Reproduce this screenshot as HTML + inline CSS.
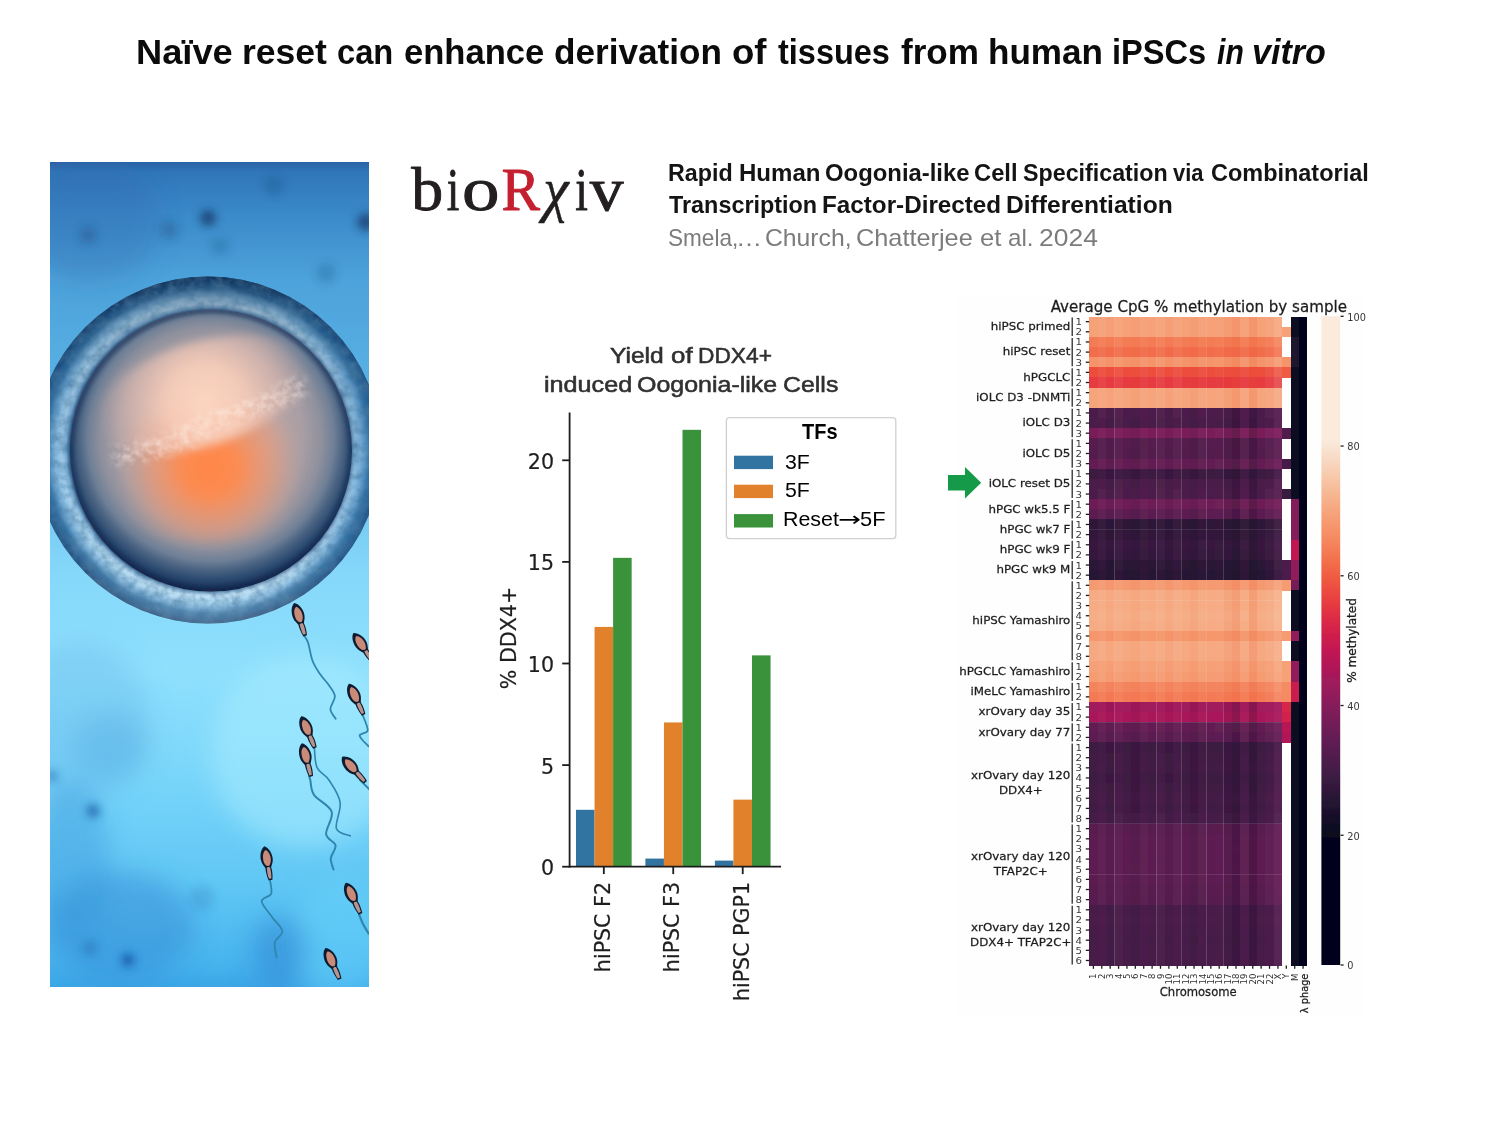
<!DOCTYPE html>
<html lang="en"><head><meta charset="utf-8">
<title>Naïve reset can enhance derivation of tissues from human iPSCs in vitro</title>
<style>
html,body{margin:0;padding:0;background:#fff}
body{width:1500px;height:1125px;position:relative;overflow:hidden;font-family:"Liberation Sans",sans-serif;color:#000}
.abs{position:absolute;white-space:nowrap}
.ln{position:absolute;left:0;width:1500px;margin:0;padding:0;white-space:nowrap}
.ln span{display:inline-block;position:relative;transform-origin:0 50%;white-space:nowrap}
.ln i{font-style:italic}
svg{position:absolute;overflow:visible}
svg text{white-space:pre}
</style></head>
<body>
<h1 class="ln" style="top:31.07px;height:42px;line-height:42px;font-size:35px;font-weight:bold;color:#0b0b0b;font-family:'Liberation Sans',sans-serif;"><span style="left:136.07px;transform:scaleX(1.0356)">Naïve</span> <span style="left:138.98px;transform:scaleX(1.0148)">reset</span> <span style="left:140.68px;transform:scaleX(0.9333)">can</span> <span style="left:136.98px;transform:scaleX(0.9878)">enhance</span> <span style="left:135.56px;transform:scaleX(1.0043)">derivation</span> <span style="left:136.76px;transform:scaleX(1.0457)">of</span> <span style="left:139.83px;transform:scaleX(0.9280)">tissues</span> <span style="left:132.43px;transform:scaleX(1.0027)">from</span> <span style="left:131.92px;transform:scaleX(1.0018)">human</span> <span style="left:131.22px;transform:scaleX(0.9316)">iPSCs</span> <span style="left:125.63px;transform:scaleX(0.8615)"><i>in</i></span> <span style="left:120.26px;transform:scaleX(0.9732)"><i>vitro</i></span></h1>
<svg id="photo" width="319" height="825" viewBox="0 0 319 825" style="left:50px;top:162px;overflow:hidden"><defs>
<linearGradient id="bg" x1="0" y1="0" x2="0" y2="1">
<stop offset="0" stop-color="#2a63a6"/>
<stop offset="0.012" stop-color="#3076b8"/>
<stop offset="0.06" stop-color="#3a88c8"/>
<stop offset="0.14" stop-color="#4ca2da"/>
<stop offset="0.30" stop-color="#5cb4e6"/>
<stop offset="0.50" stop-color="#86d8fa"/>
<stop offset="0.62" stop-color="#8fe0fd"/>
<stop offset="0.74" stop-color="#7ad6fa"/>
<stop offset="0.88" stop-color="#5fc6f4"/>
<stop offset="0.97" stop-color="#48b4ee"/>
<stop offset="1" stop-color="#3ca6e6"/>
</linearGradient>
<radialGradient id="ring" cx="158" cy="288" r="174" gradientUnits="userSpaceOnUse">
<stop offset="0.78" stop-color="#1a3558"/>
<stop offset="0.815" stop-color="#8fc0e4"/>
<stop offset="0.84" stop-color="#c4e6fa"/>
<stop offset="0.875" stop-color="#aad8f4"/>
<stop offset="0.905" stop-color="#74acd6"/>
<stop offset="0.935" stop-color="#34709f"/>
<stop offset="0.965" stop-color="#225688"/>
<stop offset="0.99" stop-color="#183f6c"/>
<stop offset="1" stop-color="#15365e"/>
</radialGradient>
<linearGradient id="ringshade" x1="0" y1="0" x2="0" y2="1">
<stop offset="0" stop-color="#0a2648" stop-opacity="0.5"/>
<stop offset="0.1" stop-color="#0a2648" stop-opacity="0.3"/>
<stop offset="0.3" stop-color="#0c2c50" stop-opacity="0.15"/>
<stop offset="0.6" stop-color="#0c2c50" stop-opacity="0.0"/>
<stop offset="1" stop-color="#d8f2ff" stop-opacity="0.25"/>
</linearGradient>
<radialGradient id="cell" cx="161" cy="276" r="154" gradientUnits="userSpaceOnUse">
<stop offset="0" stop-color="#cfa89c"/>
<stop offset="0.4" stop-color="#bea6a4"/>
<stop offset="0.6" stop-color="#a89ea4"/>
<stop offset="0.72" stop-color="#8e909d"/>
<stop offset="0.8" stop-color="#6e7f96"/>
<stop offset="0.86" stop-color="#4a6382"/>
<stop offset="0.92" stop-color="#2c4b70"/>
<stop offset="0.97" stop-color="#1c3459"/>
<stop offset="1" stop-color="#14284a"/>
</radialGradient>
<linearGradient id="sideshade" x1="0" y1="0" x2="319" y2="0" gradientUnits="userSpaceOnUse">
<stop offset="0" stop-color="#2f78b4" stop-opacity="0.3"/>
<stop offset="0.12" stop-color="#2f78b4" stop-opacity="0.1"/>
<stop offset="0.3" stop-color="#2f78b4" stop-opacity="0"/>
<stop offset="0.7" stop-color="#2f78b4" stop-opacity="0"/>
<stop offset="0.88" stop-color="#2f78b4" stop-opacity="0.2"/>
<stop offset="1" stop-color="#2a70ac" stop-opacity="0.45"/>
</linearGradient>
<radialGradient id="orange" cx="160" cy="306" r="92" gradientUnits="userSpaceOnUse">
<stop offset="0" stop-color="#ff8648" stop-opacity="1"/>
<stop offset="0.3" stop-color="#ff8a4e" stop-opacity="0.95"/>
<stop offset="0.65" stop-color="#f49468" stop-opacity="0.55"/>
<stop offset="1" stop-color="#e0a088" stop-opacity="0"/>
</radialGradient>
<radialGradient id="peach" cx="152" cy="240" r="108" gradientUnits="userSpaceOnUse">
<stop offset="0" stop-color="#fcd6c2" stop-opacity="1"/>
<stop offset="0.35" stop-color="#f8ceba" stop-opacity="0.9"/>
<stop offset="0.7" stop-color="#e6beb2" stop-opacity="0.5"/>
<stop offset="1" stop-color="#d0b0ac" stop-opacity="0"/>
</radialGradient>
<filter id="tex" x="0" y="0" width="100%" height="100%">
<feTurbulence type="fractalNoise" baseFrequency="0.09" numOctaves="3" seed="7" result="n"/>
<feColorMatrix in="n" type="matrix" values="0 0 0 0 1  0 0 0 0 1  0 0 0 0 1  1.6 0 0 0 -0.55" result="a"/>
<feComposite in="a" in2="SourceGraphic" operator="in"/>
</filter>
<filter id="tex2" x="-10%" y="-30%" width="120%" height="160%">
<feGaussianBlur in="SourceGraphic" stdDeviation="5" result="m"/>
<feTurbulence type="fractalNoise" baseFrequency="0.13" numOctaves="3" seed="11" result="n"/>
<feColorMatrix in="n" type="matrix" values="0 0 0 0 0.99  0 0 0 0 0.86  0 0 0 0 0.79  2.2 0 0 0 -0.7" result="a"/>
<feComposite in="a" in2="m" operator="in"/>
</filter>
<filter id="texd" x="0" y="0" width="100%" height="100%">
<feTurbulence type="fractalNoise" baseFrequency="0.11" numOctaves="3" seed="3" result="n"/>
<feColorMatrix in="n" type="matrix" values="0 0 0 0 0.05  0 0 0 0 0.17  0 0 0 0 0.32  0 1.8 0 0 -0.62" result="a"/>
<feComposite in="a" in2="SourceGraphic" operator="in"/>
</filter>
<filter id="b2" x="-50%" y="-50%" width="200%" height="200%"><feGaussianBlur stdDeviation="2"/></filter>
<filter id="b4" x="-50%" y="-50%" width="200%" height="200%"><feGaussianBlur stdDeviation="4.5"/></filter>
<filter id="b10" x="-50%" y="-50%" width="200%" height="200%"><feGaussianBlur stdDeviation="12"/></filter>
<filter id="b1" x="-20%" y="-20%" width="140%" height="140%"><feGaussianBlur stdDeviation="0.7"/></filter>
<clipPath id="cellclip"><circle cx="161" cy="288" r="140"/></clipPath>
</defs><rect x="0" y="0" width="319" height="825" fill="url(#bg)"/><g filter="url(#b10)"><ellipse cx="255" cy="590" rx="95" ry="95" fill="#a8ecff" opacity="0.55"/><ellipse cx="30" cy="560" rx="70" ry="80" fill="#5fb0e4" opacity="0.3"/><ellipse cx="60" cy="585" rx="38" ry="34" fill="#4fa4dc" opacity="0.32"/><ellipse cx="40" cy="60" rx="70" ry="60" fill="#2a64a8" opacity="0.28"/><ellipse cx="290" cy="780" rx="50" ry="60" fill="#6ad4fc" opacity="0.5"/><ellipse cx="70" cy="765" rx="75" ry="55" fill="#2c84d0" opacity="0.42"/><ellipse cx="20" cy="700" rx="40" ry="80" fill="#3a94da" opacity="0.4"/><ellipse cx="230" cy="790" rx="28" ry="36" fill="#2f86d4" opacity="0.55"/></g><g filter="url(#b4)" fill="#173f70"><circle cx="158" cy="56" r="8" opacity="0.85"/><circle cx="316" cy="60" r="9" opacity="0.8"/><circle cx="38" cy="73" r="9" opacity="0.3"/><circle cx="119" cy="68" r="9" opacity="0.3"/><circle cx="224" cy="24" r="10" opacity="0.22"/><circle cx="276" cy="111" r="10" opacity="0.22"/><circle cx="170" cy="84" r="9" opacity="0.2"/><circle cx="43" cy="649" r="7" opacity="0.8" fill="#1f68ac"/><circle cx="2" cy="614" r="6" opacity="0.6" fill="#2a72b0"/><circle cx="78" cy="798" r="6.5" opacity="0.9" fill="#1a58a8"/><circle cx="40" cy="786" r="8" opacity="0.4" fill="#2066a8"/><circle cx="152" cy="736" r="12" opacity="0.22" fill="#2a72b0"/></g><g filter="url(#b1)"><circle cx="158" cy="288" r="173.5" fill="url(#ring)"/><circle cx="158" cy="288" r="173.5" fill="url(#ringshade)"/><circle cx="158" cy="288" r="173.5" fill="url(#sideshade)"/><path d="M158 114.5 A173.5 173.5 0 1 1 157.9 114.5 Z M161 147.5 A140.5 140.5 0 1 0 161.1 147.5 Z" fill="#fff" fill-rule="evenodd" filter="url(#texd)" opacity="0.6"/><path d="M158 114.5 A173.5 173.5 0 1 1 157.9 114.5 Z M161 147.5 A140.5 140.5 0 1 0 161.1 147.5 Z" fill="#fff" fill-rule="evenodd" filter="url(#tex)" opacity="0.10"/><circle cx="161" cy="288.6" r="141" fill="url(#cell)"/><circle cx="161" cy="288.6" r="139.6" fill="none" stroke="#10224a" stroke-width="3.4" opacity="0.7" filter="url(#b2)"/><g clip-path="url(#cellclip)"><ellipse cx="160" cy="312" rx="104" ry="70" fill="url(#orange)" filter="url(#b4)"/><ellipse cx="152" cy="232" rx="108" ry="52" fill="url(#peach)" filter="url(#b4)" transform="rotate(-17 152 232)"/><path d="M62 284 C90 280 112 274 137 260 C162 246 205 236 252 212 L260 232 C214 254 176 262 150 280 C124 294 96 300 64 304 Z" fill="#fbd8c6" opacity="0.5" filter="url(#tex2)"/></g></g><g filter="url(#b1)"><path d="M254.6 474.2 C255.2 475.3 256.9 476.9 258.2 481.0 C259.5 485.1 260.6 493.8 262.6 499.0 C264.6 504.2 267.2 507.8 270.0 512.0 C272.8 516.2 277.0 520.2 279.5 524.0 C282.0 527.8 284.8 530.8 284.9 534.6 C285.0 538.4 280.3 543.3 280.4 547.0 C280.5 550.7 284.8 555.2 285.7 556.8" fill="none" stroke="#2f86ae" stroke-width="1.8" stroke-linecap="round"/><path d="M312.4 552.4 C313.3 555.1 318.1 564.8 317.7 568.4 C317.2 572.0 309.5 571.0 309.7 573.7 C309.9 576.4 317.1 582.6 318.6 584.4" fill="none" stroke="#2f86ae" stroke-width="1.8" stroke-linecap="round"/><path d="M264.4 586.2 C264.8 589.5 264.7 600.4 267.1 605.7 C269.5 611.0 275.1 612.2 278.9 618.0 C282.7 623.8 288.9 632.3 290.1 640.4 C291.4 648.5 284.7 660.9 286.4 666.5 C288.1 672.1 298.1 672.8 300.4 674.0" fill="none" stroke="#2f86ae" stroke-width="1.6" stroke-linecap="round"/><path d="M259.0 614.0 C259.2 614.7 259.5 614.9 260.3 618.0 C261.1 621.1 260.4 627.6 264.0 632.9 C267.6 638.2 279.7 643.2 281.7 649.7 C283.7 656.2 275.5 666.5 276.1 672.1 C276.7 677.7 284.7 679.2 285.5 683.3 C286.3 687.3 281.1 692.3 280.8 696.4 C280.5 700.5 283.1 705.7 283.6 707.6" fill="none" stroke="#2f86ae" stroke-width="2.0" stroke-linecap="round"/><path d="M310.0 618.0 C312.0 620.0 320.0 628.0 322.0 630.0" fill="none" stroke="#2f86ae" stroke-width="1.8" stroke-linecap="round"/><path d="M220.1 718.8 C220.3 721.0 222.5 728.5 221.1 731.9 C219.7 735.3 211.5 735.4 211.7 739.3 C211.8 743.1 218.6 750.0 222.0 755.0 C225.4 760.0 231.8 765.0 232.3 769.2 C232.8 773.4 225.7 776.0 224.8 780.4 C223.9 784.8 226.4 792.8 226.7 795.3" fill="none" stroke="#2f86ae" stroke-width="1.8" stroke-linecap="round"/><path d="M309.0 752.0 C309.7 753.7 311.4 758.8 313.0 762.0 C314.6 765.2 317.6 769.9 318.5 771.5" fill="none" stroke="#2f86ae" stroke-width="2.2" stroke-linecap="round"/><g transform="translate(248.4,452.9) rotate(-17) scale(1.0)"><path d="M-0.5 -12.5 C3.5 -10.5 6.4 -4 5.8 1.5 C5.4 5.5 3.4 7.5 2.9 9.5 C3.6 13 3.2 18 2.2 22 L-1.6 22 C-2.6 18 -3.2 13 -2.9 9.5 C-3.6 7.5 -5.6 5.5 -6 1.5 C-6.6 -4 -4.5 -10.5 -0.5 -12.5 Z" fill="#101d30"/><path d="M0.4 -8.5 C3 -6.5 4.3 -2.5 3.9 1.2 C3.6 4.2 2.4 6.2 1.2 7.6 C0 7.8 -1.4 7.4 -2.4 6 C-3.8 3.6 -4.1 0.5 -3.4 -3 C-2.8 -6 -1.4 -8 0.4 -8.5 Z" fill="#c98a78"/><path d="M-1.5 9.2 C-0.5 8.6 1 8.6 1.8 9.4 C2.3 13 2 17 1.4 20.5 L-1 20.5 C-1.8 17 -1.9 13 -1.5 9.2 Z" fill="#b8948e"/></g><g transform="translate(310.6,481.3) rotate(-33) scale(1.0)"><path d="M-0.5 -12.5 C3.5 -10.5 6.4 -4 5.8 1.5 C5.4 5.5 3.4 7.5 2.9 9.5 C3.6 13 3.2 18 2.2 22 L-1.6 22 C-2.6 18 -3.2 13 -2.9 9.5 C-3.6 7.5 -5.6 5.5 -6 1.5 C-6.6 -4 -4.5 -10.5 -0.5 -12.5 Z" fill="#101d30"/><path d="M0.4 -8.5 C3 -6.5 4.3 -2.5 3.9 1.2 C3.6 4.2 2.4 6.2 1.2 7.6 C0 7.8 -1.4 7.4 -2.4 6 C-3.8 3.6 -4.1 0.5 -3.4 -3 C-2.8 -6 -1.4 -8 0.4 -8.5 Z" fill="#c98a78"/><path d="M-1.5 9.2 C-0.5 8.6 1 8.6 1.8 9.4 C2.3 13 2 17 1.4 20.5 L-1 20.5 C-1.8 17 -1.9 13 -1.5 9.2 Z" fill="#b8948e"/></g><g transform="translate(304.4,532.9) rotate(-24) scale(1.0)"><path d="M-0.5 -12.5 C3.5 -10.5 6.4 -4 5.8 1.5 C5.4 5.5 3.4 7.5 2.9 9.5 C3.6 13 3.2 18 2.2 22 L-1.6 22 C-2.6 18 -3.2 13 -2.9 9.5 C-3.6 7.5 -5.6 5.5 -6 1.5 C-6.6 -4 -4.5 -10.5 -0.5 -12.5 Z" fill="#101d30"/><path d="M0.4 -8.5 C3 -6.5 4.3 -2.5 3.9 1.2 C3.6 4.2 2.4 6.2 1.2 7.6 C0 7.8 -1.4 7.4 -2.4 6 C-3.8 3.6 -4.1 0.5 -3.4 -3 C-2.8 -6 -1.4 -8 0.4 -8.5 Z" fill="#c98a78"/><path d="M-1.5 9.2 C-0.5 8.6 1 8.6 1.8 9.4 C2.3 13 2 17 1.4 20.5 L-1 20.5 C-1.8 17 -1.9 13 -1.5 9.2 Z" fill="#b8948e"/></g><g transform="translate(256.4,565.7) rotate(-22) scale(1.0)"><path d="M-0.5 -12.5 C3.5 -10.5 6.4 -4 5.8 1.5 C5.4 5.5 3.4 7.5 2.9 9.5 C3.6 13 3.2 18 2.2 22 L-1.6 22 C-2.6 18 -3.2 13 -2.9 9.5 C-3.6 7.5 -5.6 5.5 -6 1.5 C-6.6 -4 -4.5 -10.5 -0.5 -12.5 Z" fill="#101d30"/><path d="M0.4 -8.5 C3 -6.5 4.3 -2.5 3.9 1.2 C3.6 4.2 2.4 6.2 1.2 7.6 C0 7.8 -1.4 7.4 -2.4 6 C-3.8 3.6 -4.1 0.5 -3.4 -3 C-2.8 -6 -1.4 -8 0.4 -8.5 Z" fill="#c98a78"/><path d="M-1.5 9.2 C-0.5 8.6 1 8.6 1.8 9.4 C2.3 13 2 17 1.4 20.5 L-1 20.5 C-1.8 17 -1.9 13 -1.5 9.2 Z" fill="#b8948e"/></g><g transform="translate(255.5,593.3) rotate(-14) scale(1.0)"><path d="M-0.5 -12.5 C3.5 -10.5 6.4 -4 5.8 1.5 C5.4 5.5 3.4 7.5 2.9 9.5 C3.6 13 3.2 18 2.2 22 L-1.6 22 C-2.6 18 -3.2 13 -2.9 9.5 C-3.6 7.5 -5.6 5.5 -6 1.5 C-6.6 -4 -4.5 -10.5 -0.5 -12.5 Z" fill="#101d30"/><path d="M0.4 -8.5 C3 -6.5 4.3 -2.5 3.9 1.2 C3.6 4.2 2.4 6.2 1.2 7.6 C0 7.8 -1.4 7.4 -2.4 6 C-3.8 3.6 -4.1 0.5 -3.4 -3 C-2.8 -6 -1.4 -8 0.4 -8.5 Z" fill="#c98a78"/><path d="M-1.5 9.2 C-0.5 8.6 1 8.6 1.8 9.4 C2.3 13 2 17 1.4 20.5 L-1 20.5 C-1.8 17 -1.9 13 -1.5 9.2 Z" fill="#b8948e"/></g><g transform="translate(300.8,603.9) rotate(-41) scale(1.0)"><path d="M-0.5 -12.5 C3.5 -10.5 6.4 -4 5.8 1.5 C5.4 5.5 3.4 7.5 2.9 9.5 C3.6 13 3.2 18 2.2 22 L-1.6 22 C-2.6 18 -3.2 13 -2.9 9.5 C-3.6 7.5 -5.6 5.5 -6 1.5 C-6.6 -4 -4.5 -10.5 -0.5 -12.5 Z" fill="#101d30"/><path d="M0.4 -8.5 C3 -6.5 4.3 -2.5 3.9 1.2 C3.6 4.2 2.4 6.2 1.2 7.6 C0 7.8 -1.4 7.4 -2.4 6 C-3.8 3.6 -4.1 0.5 -3.4 -3 C-2.8 -6 -1.4 -8 0.4 -8.5 Z" fill="#c98a78"/><path d="M-1.5 9.2 C-0.5 8.6 1 8.6 1.8 9.4 C2.3 13 2 17 1.4 20.5 L-1 20.5 C-1.8 17 -1.9 13 -1.5 9.2 Z" fill="#b8948e"/></g><g transform="translate(216.8,696.4) rotate(-9) scale(1.0)"><path d="M-0.5 -12.5 C3.5 -10.5 6.4 -4 5.8 1.5 C5.4 5.5 3.4 7.5 2.9 9.5 C3.6 13 3.2 18 2.2 22 L-1.6 22 C-2.6 18 -3.2 13 -2.9 9.5 C-3.6 7.5 -5.6 5.5 -6 1.5 C-6.6 -4 -4.5 -10.5 -0.5 -12.5 Z" fill="#101d30"/><path d="M0.4 -8.5 C3 -6.5 4.3 -2.5 3.9 1.2 C3.6 4.2 2.4 6.2 1.2 7.6 C0 7.8 -1.4 7.4 -2.4 6 C-3.8 3.6 -4.1 0.5 -3.4 -3 C-2.8 -6 -1.4 -8 0.4 -8.5 Z" fill="#c98a78"/><path d="M-1.5 9.2 C-0.5 8.6 1 8.6 1.8 9.4 C2.3 13 2 17 1.4 20.5 L-1 20.5 C-1.8 17 -1.9 13 -1.5 9.2 Z" fill="#b8948e"/></g><g transform="translate(301.3,731.9) rotate(-24) scale(1.0)"><path d="M-0.5 -12.5 C3.5 -10.5 6.4 -4 5.8 1.5 C5.4 5.5 3.4 7.5 2.9 9.5 C3.6 13 3.2 18 2.2 22 L-1.6 22 C-2.6 18 -3.2 13 -2.9 9.5 C-3.6 7.5 -5.6 5.5 -6 1.5 C-6.6 -4 -4.5 -10.5 -0.5 -12.5 Z" fill="#101d30"/><path d="M0.4 -8.5 C3 -6.5 4.3 -2.5 3.9 1.2 C3.6 4.2 2.4 6.2 1.2 7.6 C0 7.8 -1.4 7.4 -2.4 6 C-3.8 3.6 -4.1 0.5 -3.4 -3 C-2.8 -6 -1.4 -8 0.4 -8.5 Z" fill="#c98a78"/><path d="M-1.5 9.2 C-0.5 8.6 1 8.6 1.8 9.4 C2.3 13 2 17 1.4 20.5 L-1 20.5 C-1.8 17 -1.9 13 -1.5 9.2 Z" fill="#b8948e"/></g><g transform="translate(280.8,797.2) rotate(-23) scale(1.0)"><path d="M-0.5 -12.5 C3.5 -10.5 6.4 -4 5.8 1.5 C5.4 5.5 3.4 7.5 2.9 9.5 C3.6 13 3.2 18 2.2 22 L-1.6 22 C-2.6 18 -3.2 13 -2.9 9.5 C-3.6 7.5 -5.6 5.5 -6 1.5 C-6.6 -4 -4.5 -10.5 -0.5 -12.5 Z" fill="#101d30"/><path d="M0.4 -8.5 C3 -6.5 4.3 -2.5 3.9 1.2 C3.6 4.2 2.4 6.2 1.2 7.6 C0 7.8 -1.4 7.4 -2.4 6 C-3.8 3.6 -4.1 0.5 -3.4 -3 C-2.8 -6 -1.4 -8 0.4 -8.5 Z" fill="#c98a78"/><path d="M-1.5 9.2 C-0.5 8.6 1 8.6 1.8 9.4 C2.3 13 2 17 1.4 20.5 L-1 20.5 C-1.8 17 -1.9 13 -1.5 9.2 Z" fill="#b8948e"/></g></g></svg>
<svg id="logo" width="1500" height="1125" viewBox="0 0 1500 1125" style="left:0;top:0"><text y="210" font-family="Liberation Serif, serif" font-size="61.5" stroke-linejoin="round"><tspan x="411.19" textLength="31.92" lengthAdjust="spacingAndGlyphs" fill="#231f20" stroke="#231f20" stroke-width="0.9">b</tspan><tspan x="446.65" textLength="12.65" lengthAdjust="spacingAndGlyphs" fill="#231f20" stroke="#231f20" stroke-width="0.9">i</tspan><tspan x="462.00" textLength="37.50" lengthAdjust="spacingAndGlyphs" fill="#231f20" stroke="#231f20" stroke-width="0.9">o</tspan><tspan x="501.50" textLength="38.51" lengthAdjust="spacingAndGlyphs" fill="#c4202f" stroke="#c4202f" stroke-width="0.9">R</tspan><tspan x="543.33" textLength="25.39" lengthAdjust="spacingAndGlyphs" fill="#231f20" stroke="#231f20" stroke-width="0.5" font-style="italic">χ</tspan><tspan x="575.26" textLength="12.65" lengthAdjust="spacingAndGlyphs" fill="#231f20" stroke="#231f20" stroke-width="0.9">i</tspan><tspan x="589.84" textLength="33.78" lengthAdjust="spacingAndGlyphs" fill="#231f20" stroke="#231f20" stroke-width="0.9">v</tspan></text></svg>
<p class="ln" style="top:158.18px;height:29px;line-height:29px;font-size:24px;font-weight:bold;color:#141414;font-family:'Liberation Sans',sans-serif;"><span style="left:668.14px;transform:scaleX(0.9701)">Rapid</span> <span style="left:665.16px;transform:scaleX(1.0019)">Human</span> <span style="left:664.05px;transform:scaleX(0.9944)">Oogonia-like</span> <span style="left:660.82px;transform:scaleX(0.9891)">Cell</span> <span style="left:659.19px;transform:scaleX(0.9687)">Specification</span> <span style="left:652.44px;transform:scaleX(0.9143)">via</span> <span style="left:650.85px;transform:scaleX(0.9776)">Combinatorial</span></p>
<p class="ln" style="top:190.08px;height:29px;line-height:29px;font-size:24px;font-weight:bold;color:#141414;font-family:'Liberation Sans',sans-serif;"><span style="left:668.56px;transform:scaleX(0.9744)">Transcription</span> <span style="left:662.98px;transform:scaleX(1.0100)">Factor-Directed</span> <span style="left:663.71px;transform:scaleX(1.0247)">Differentiation</span></p>
<p class="ln" style="top:222.58px;height:29px;line-height:29px;font-size:24px;font-weight:normal;color:#7c7c7c;font-family:'Liberation Sans',sans-serif;"><span style="left:668.42px;transform:scaleX(0.9404)">Smela,</span><span style="left:661.17px;transform:scaleX(1.0857)">…</span> <span style="left:659.74px;transform:scaleX(1.0303)">Church,</span> <span style="left:660.19px;transform:scaleX(1.0544)">Chatterjee</span> <span style="left:666.23px;transform:scaleX(1.0684)">et</span> <span style="left:667.60px;transform:scaleX(1.0067)">al.</span> <span style="left:666.40px;transform:scaleX(1.1029)">2024</span></p>
<svg id="bar" width="1500" height="1125" viewBox="0 0 1500 1125" style="left:0;top:0">
<rect x="576.00" y="809.80" width="18.55" height="56.90" fill="#3274a1"/>
<rect x="594.55" y="626.92" width="18.55" height="239.78" fill="#e1812c"/>
<rect x="613.10" y="557.84" width="18.55" height="308.86" fill="#3a923a"/>
<rect x="645.40" y="858.57" width="18.55" height="8.13" fill="#3274a1"/>
<rect x="663.95" y="722.43" width="18.55" height="144.27" fill="#e1812c"/>
<rect x="682.50" y="429.82" width="18.55" height="436.88" fill="#3a923a"/>
<rect x="714.90" y="860.60" width="18.55" height="6.10" fill="#3274a1"/>
<rect x="733.45" y="799.64" width="18.55" height="67.06" fill="#e1812c"/>
<rect x="752.00" y="655.37" width="18.55" height="211.33" fill="#3a923a"/>
<g stroke="#1c1c1c" stroke-width="1.8" fill="none">
<line x1="569.6" y1="412.4" x2="569.6" y2="867.5"/>
<line x1="568.8" y1="866.7" x2="781" y2="866.7"/>
<line x1="562.2" y1="866.70" x2="569.6" y2="866.70"/>
<line x1="562.2" y1="765.10" x2="569.6" y2="765.10"/>
<line x1="562.2" y1="663.50" x2="569.6" y2="663.50"/>
<line x1="562.2" y1="561.90" x2="569.6" y2="561.90"/>
<line x1="562.2" y1="460.30" x2="569.6" y2="460.30"/>
<line x1="603.83" y1="866.7" x2="603.83" y2="874.1"/>
<line x1="673.23" y1="866.7" x2="673.23" y2="874.1"/>
<line x1="742.73" y1="866.7" x2="742.73" y2="874.1"/>
</g>
<g font-family="DejaVu Sans, sans-serif" font-size="20.6" fill="#1e1e1e" stroke="#1e1e1e" stroke-width="0.2" text-anchor="end">
<text x="554" y="875.10">0</text>
<text x="554" y="773.50">5</text>
<text x="554" y="671.90">10</text>
<text x="554" y="570.30">15</text>
<text x="554" y="468.70">20</text>
</g>
<text transform="translate(516,638) rotate(-90)" font-family="DejaVu Sans, sans-serif" font-size="20.6" fill="#1e1e1e" stroke="#1e1e1e" stroke-width="0.2" text-anchor="middle">% DDX4+</text>
<g font-family="DejaVu Sans, sans-serif" font-size="20.6" fill="#1e1e1e" stroke="#1e1e1e" stroke-width="0.2" text-anchor="end">
<text transform="translate(609.83,882) rotate(-90)">hiPSC F2</text>
<text transform="translate(679.23,882) rotate(-90)">hiPSC F3</text>
<text transform="translate(748.73,882) rotate(-90)">hiPSC PGP1</text>
</g>
<rect x="726.4" y="417.6" width="169.4" height="121" rx="3" ry="3" fill="#fff" stroke="#d0d0d0" stroke-width="1.3"/>
<rect x="734" y="455.7" width="39" height="13.4" fill="#3274a1"/>
<rect x="734" y="484.7" width="39" height="13.4" fill="#e1812c"/>
<rect x="734" y="514.1" width="39" height="13.4" fill="#3a923a"/>
</svg>

<div class="ln" style="top:342.58px;height:26px;line-height:26px;font-size:22px;font-weight:normal;color:#303030;font-family:'Liberation Sans',sans-serif;-webkit-text-stroke:0.55px #303030;"><span style="left:610.46px;transform:scaleX(1.1152)">Yield</span> <span style="left:616.69px;transform:scaleX(1.1771)">of</span> <span style="left:619.47px;transform:scaleX(1.0342)">DDX4+</span></div>

<div class="ln" style="top:371.58px;height:26px;line-height:26px;font-size:22px;font-weight:normal;color:#303030;font-family:'Liberation Sans',sans-serif;-webkit-text-stroke:0.55px #303030;"><span style="left:543.58px;transform:scaleX(1.1448)">induced</span> <span style="left:554.07px;transform:scaleX(1.1350)">Oogonia-like</span> <span style="left:569.93px;transform:scaleX(1.1319)">Cells</span></div>

<div class="ln" style="top:418.40px;height:27px;line-height:27px;font-size:22.5px;font-weight:bold;color:#000;font-family:'Liberation Sans',sans-serif;"><span style="left:801.78px;transform:scaleX(0.8877)">TFs</span></div>

<div class="ln" style="top:449.50px;height:24px;line-height:24px;font-size:20.2px;font-weight:normal;color:#000;font-family:'Liberation Sans',sans-serif;"><span style="left:784.61px;transform:scaleX(1.0545)">3F</span></div>

<div class="ln" style="top:478.00px;height:24px;line-height:24px;font-size:20.2px;font-weight:normal;color:#000;font-family:'Liberation Sans',sans-serif;"><span style="left:784.61px;transform:scaleX(1.0545)">5F</span></div>

<div class="ln" style="top:506.60px;height:24px;line-height:24px;font-size:20.2px;font-weight:normal;color:#000;font-family:'Liberation Sans',sans-serif;"><span style="left:782.94px;transform:scaleX(1.0601)">Reset</span><span style="left:785.16px;transform:scaleX(1.3559);font-family:'DejaVu Sans',sans-serif">→</span><span style="left:790.72px;transform:scaleX(1.0818)">5F</span></div>
<svg id="heat" width="1500" height="1125" viewBox="0 0 1500 1125" style="left:0;top:0">
<defs><filter id="hb" x="-5%" y="-5%" width="110%" height="110%"><feGaussianBlur stdDeviation="0.45"/></filter>
<filter id="tb" x="-5%" y="-20%" width="110%" height="140%"><feGaussianBlur stdDeviation="0.35"/></filter>
<linearGradient id="cbg" x1="0" y1="0" x2="0" y2="1">
<stop offset="0" stop-color="#faebdd"/>
<stop offset="0.1896" stop-color="#faebdd"/>
<stop offset="0.2206" stop-color="#f8d9c3"/>
<stop offset="0.2516" stop-color="#f7c6a6"/>
<stop offset="0.2827" stop-color="#f6b18b"/>
<stop offset="0.3137" stop-color="#f69c73"/>
<stop offset="0.3447" stop-color="#f58860"/>
<stop offset="0.3757" stop-color="#f3714d"/>
<stop offset="0.4067" stop-color="#ef5840"/>
<stop offset="0.4377" stop-color="#e83f3f"/>
<stop offset="0.4688" stop-color="#db2946"/>
<stop offset="0.4998" stop-color="#cb1b4f"/>
<stop offset="0.5308" stop-color="#b71657"/>
<stop offset="0.5618" stop-color="#a11a5b"/>
<stop offset="0.5928" stop-color="#8b1d5b"/>
<stop offset="0.6238" stop-color="#751f58"/>
<stop offset="0.6548" stop-color="#611f53"/>
<stop offset="0.6859" stop-color="#4c1d4b"/>
<stop offset="0.7169" stop-color="#381a40"/>
<stop offset="0.7479" stop-color="#251433"/>
<stop offset="0.7789" stop-color="#130d25"/>
<stop offset="0.8099" stop-color="#03051a"/>
<stop offset="1" stop-color="#03051a"/>
</linearGradient></defs>
<rect x="957" y="296" width="406" height="720" fill="#fefefe"/>
<g filter="url(#hb)" shape-rendering="crispEdges">
<rect x="1089.20" y="316.60" width="192.92" height="10.44" fill="#f6a178"/>
<rect x="1290.51" y="316.60" width="8.39" height="10.44" fill="#0b0920"/>
<rect x="1089.20" y="326.74" width="192.92" height="10.44" fill="#f6a178"/>
<rect x="1281.92" y="326.74" width="8.79" height="10.44" fill="#f6a178"/>
<rect x="1290.51" y="326.74" width="8.39" height="10.44" fill="#0b0920"/>
<rect x="1089.20" y="336.88" width="192.92" height="10.44" fill="#f47c55"/>
<rect x="1290.51" y="336.88" width="8.39" height="10.44" fill="#1e122d"/>
<rect x="1089.20" y="347.02" width="192.92" height="10.44" fill="#f26d4b"/>
<rect x="1290.51" y="347.02" width="8.39" height="10.44" fill="#1e122d"/>
<rect x="1089.20" y="357.16" width="192.92" height="10.44" fill="#f5946b"/>
<rect x="1281.92" y="357.16" width="8.79" height="10.44" fill="#f5946b"/>
<rect x="1290.51" y="357.16" width="8.39" height="10.44" fill="#1e122d"/>
<rect x="1089.20" y="367.30" width="192.92" height="10.44" fill="#ed4e3e"/>
<rect x="1281.92" y="367.30" width="8.79" height="10.44" fill="#f05c42"/>
<rect x="1290.51" y="367.30" width="8.39" height="10.44" fill="#0b0920"/>
<rect x="1089.20" y="377.44" width="192.92" height="10.44" fill="#e63b40"/>
<rect x="1290.51" y="377.44" width="8.39" height="10.44" fill="#0b0920"/>
<rect x="1089.20" y="387.58" width="192.92" height="10.44" fill="#f6a47c"/>
<rect x="1290.51" y="387.58" width="8.39" height="10.44" fill="#0b0920"/>
<rect x="1089.20" y="397.72" width="192.92" height="10.44" fill="#f6a47c"/>
<rect x="1290.51" y="397.72" width="8.39" height="10.44" fill="#0b0920"/>
<rect x="1089.20" y="407.86" width="192.92" height="10.44" fill="#4c1d4b"/>
<rect x="1290.51" y="407.86" width="8.39" height="10.44" fill="#0b0920"/>
<rect x="1089.20" y="418.00" width="192.92" height="10.44" fill="#481c48"/>
<rect x="1290.51" y="418.00" width="8.39" height="10.44" fill="#0b0920"/>
<rect x="1089.20" y="428.14" width="192.92" height="10.44" fill="#7a1f59"/>
<rect x="1281.92" y="428.14" width="8.79" height="10.44" fill="#501d4c"/>
<rect x="1290.51" y="428.14" width="8.39" height="10.44" fill="#0b0920"/>
<rect x="1089.20" y="438.28" width="192.92" height="10.44" fill="#541e4e"/>
<rect x="1290.51" y="438.28" width="8.39" height="10.44" fill="#0b0920"/>
<rect x="1089.20" y="448.42" width="192.92" height="10.44" fill="#531e4d"/>
<rect x="1290.51" y="448.42" width="8.39" height="10.44" fill="#0b0920"/>
<rect x="1089.20" y="458.56" width="192.92" height="10.44" fill="#631f53"/>
<rect x="1281.92" y="458.56" width="8.79" height="10.44" fill="#451c47"/>
<rect x="1290.51" y="458.56" width="8.39" height="10.44" fill="#0b0920"/>
<rect x="1089.20" y="468.70" width="192.92" height="10.44" fill="#3a1a41"/>
<rect x="1290.51" y="468.70" width="8.39" height="10.44" fill="#0b0920"/>
<rect x="1089.20" y="478.84" width="192.92" height="10.44" fill="#481c48"/>
<rect x="1290.51" y="478.84" width="8.39" height="10.44" fill="#0b0920"/>
<rect x="1089.20" y="488.98" width="192.92" height="10.44" fill="#4c1d4b"/>
<rect x="1281.92" y="488.98" width="8.79" height="10.44" fill="#381a40"/>
<rect x="1290.51" y="488.98" width="8.39" height="10.44" fill="#0b0920"/>
<rect x="1089.20" y="499.12" width="192.92" height="10.44" fill="#6d1f56"/>
<rect x="1290.51" y="499.12" width="8.39" height="10.44" fill="#821e5a"/>
<rect x="1089.20" y="509.26" width="192.92" height="10.44" fill="#5b1e51"/>
<rect x="1290.51" y="509.26" width="8.39" height="10.44" fill="#821e5a"/>
<rect x="1089.20" y="519.40" width="192.92" height="10.44" fill="#2d1738"/>
<rect x="1290.51" y="519.40" width="8.39" height="10.44" fill="#821e5a"/>
<rect x="1089.20" y="529.54" width="192.92" height="10.44" fill="#30173a"/>
<rect x="1290.51" y="529.54" width="8.39" height="10.44" fill="#821e5a"/>
<rect x="1089.20" y="539.68" width="192.92" height="10.44" fill="#37193f"/>
<rect x="1290.51" y="539.68" width="8.39" height="10.44" fill="#c21753"/>
<rect x="1089.20" y="549.82" width="192.92" height="10.44" fill="#34193d"/>
<rect x="1290.51" y="549.82" width="8.39" height="10.44" fill="#c21753"/>
<rect x="1089.20" y="559.96" width="192.92" height="10.44" fill="#2a1636"/>
<rect x="1281.92" y="559.96" width="8.79" height="10.44" fill="#4c1d4b"/>
<rect x="1290.51" y="559.96" width="8.39" height="10.44" fill="#901d5b"/>
<rect x="1089.20" y="570.10" width="192.92" height="10.44" fill="#271534"/>
<rect x="1281.92" y="570.10" width="8.79" height="10.44" fill="#4c1d4b"/>
<rect x="1290.51" y="570.10" width="8.39" height="10.44" fill="#901d5b"/>
<rect x="1089.20" y="580.24" width="192.92" height="10.44" fill="#f59970"/>
<rect x="1281.92" y="580.24" width="8.79" height="10.44" fill="#f69c73"/>
<rect x="1290.51" y="580.24" width="8.39" height="10.44" fill="#751f58"/>
<rect x="1089.20" y="590.38" width="192.92" height="10.44" fill="#f6ab83"/>
<rect x="1290.51" y="590.38" width="8.39" height="10.44" fill="#0b0920"/>
<rect x="1089.20" y="600.52" width="192.92" height="10.44" fill="#f6ab83"/>
<rect x="1290.51" y="600.52" width="8.39" height="10.44" fill="#0b0920"/>
<rect x="1089.20" y="610.66" width="192.92" height="10.44" fill="#f6ae87"/>
<rect x="1290.51" y="610.66" width="8.39" height="10.44" fill="#0b0920"/>
<rect x="1089.20" y="620.80" width="192.92" height="10.44" fill="#f6ab83"/>
<rect x="1290.51" y="620.80" width="8.39" height="10.44" fill="#0b0920"/>
<rect x="1089.20" y="630.94" width="192.92" height="10.44" fill="#f5966c"/>
<rect x="1281.92" y="630.94" width="8.79" height="10.44" fill="#f69c73"/>
<rect x="1290.51" y="630.94" width="8.39" height="10.44" fill="#901d5b"/>
<rect x="1089.20" y="641.08" width="192.92" height="10.44" fill="#f6a981"/>
<rect x="1290.51" y="641.08" width="8.39" height="10.44" fill="#0b0920"/>
<rect x="1089.20" y="651.22" width="192.92" height="10.44" fill="#f6a981"/>
<rect x="1290.51" y="651.22" width="8.39" height="10.44" fill="#0b0920"/>
<rect x="1089.20" y="661.36" width="192.92" height="10.44" fill="#f6a077"/>
<rect x="1281.92" y="661.36" width="8.79" height="10.44" fill="#f6a178"/>
<rect x="1290.51" y="661.36" width="8.39" height="10.44" fill="#901d5b"/>
<rect x="1089.20" y="671.50" width="192.92" height="10.44" fill="#f69c73"/>
<rect x="1281.92" y="671.50" width="8.79" height="10.44" fill="#f6a178"/>
<rect x="1290.51" y="671.50" width="8.39" height="10.44" fill="#901d5b"/>
<rect x="1089.20" y="681.64" width="192.92" height="10.44" fill="#f4845d"/>
<rect x="1281.92" y="681.64" width="8.79" height="10.44" fill="#f58b63"/>
<rect x="1290.51" y="681.64" width="8.39" height="10.44" fill="#cb1b4f"/>
<rect x="1089.20" y="691.78" width="192.92" height="10.44" fill="#f47a54"/>
<rect x="1281.92" y="691.78" width="8.79" height="10.44" fill="#f58b63"/>
<rect x="1290.51" y="691.78" width="8.39" height="10.44" fill="#cb1b4f"/>
<rect x="1089.20" y="701.92" width="192.92" height="10.44" fill="#a11a5b"/>
<rect x="1281.92" y="701.92" width="8.79" height="10.44" fill="#d82748"/>
<rect x="1290.51" y="701.92" width="8.39" height="10.44" fill="#0b0920"/>
<rect x="1089.20" y="712.06" width="192.92" height="10.44" fill="#aa185a"/>
<rect x="1281.92" y="712.06" width="8.79" height="10.44" fill="#d2204c"/>
<rect x="1290.51" y="712.06" width="8.39" height="10.44" fill="#0b0920"/>
<rect x="1089.20" y="722.20" width="192.92" height="10.44" fill="#631f53"/>
<rect x="1281.92" y="722.20" width="8.79" height="10.44" fill="#ba1656"/>
<rect x="1290.51" y="722.20" width="8.39" height="10.44" fill="#0b0920"/>
<rect x="1089.20" y="732.34" width="192.92" height="10.44" fill="#5b1e51"/>
<rect x="1281.92" y="732.34" width="8.79" height="10.44" fill="#b21758"/>
<rect x="1290.51" y="732.34" width="8.39" height="10.44" fill="#0b0920"/>
<rect x="1089.20" y="742.48" width="192.92" height="10.44" fill="#3c1a42"/>
<rect x="1290.51" y="742.48" width="8.39" height="10.44" fill="#0b0920"/>
<rect x="1089.20" y="752.62" width="192.92" height="10.44" fill="#3f1b43"/>
<rect x="1290.51" y="752.62" width="8.39" height="10.44" fill="#0b0920"/>
<rect x="1089.20" y="762.76" width="192.92" height="10.44" fill="#401b44"/>
<rect x="1290.51" y="762.76" width="8.39" height="10.44" fill="#0b0920"/>
<rect x="1089.20" y="772.90" width="192.92" height="10.44" fill="#3c1a42"/>
<rect x="1290.51" y="772.90" width="8.39" height="10.44" fill="#0b0920"/>
<rect x="1089.20" y="783.04" width="192.92" height="10.44" fill="#3f1b43"/>
<rect x="1290.51" y="783.04" width="8.39" height="10.44" fill="#0b0920"/>
<rect x="1089.20" y="793.18" width="192.92" height="10.44" fill="#421b45"/>
<rect x="1290.51" y="793.18" width="8.39" height="10.44" fill="#0b0920"/>
<rect x="1089.20" y="803.32" width="192.92" height="10.44" fill="#401b44"/>
<rect x="1290.51" y="803.32" width="8.39" height="10.44" fill="#0b0920"/>
<rect x="1089.20" y="813.46" width="192.92" height="10.44" fill="#451c47"/>
<rect x="1290.51" y="813.46" width="8.39" height="10.44" fill="#0b0920"/>
<rect x="1089.20" y="823.60" width="192.92" height="10.44" fill="#581e4f"/>
<rect x="1290.51" y="823.60" width="8.39" height="10.44" fill="#0b0920"/>
<rect x="1089.20" y="833.74" width="192.92" height="10.44" fill="#5b1e51"/>
<rect x="1290.51" y="833.74" width="8.39" height="10.44" fill="#0b0920"/>
<rect x="1089.20" y="843.88" width="192.92" height="10.44" fill="#5c1e51"/>
<rect x="1290.51" y="843.88" width="8.39" height="10.44" fill="#0b0920"/>
<rect x="1089.20" y="854.02" width="192.92" height="10.44" fill="#5b1e51"/>
<rect x="1290.51" y="854.02" width="8.39" height="10.44" fill="#0b0920"/>
<rect x="1089.20" y="864.16" width="192.92" height="10.44" fill="#5c1e51"/>
<rect x="1290.51" y="864.16" width="8.39" height="10.44" fill="#0b0920"/>
<rect x="1089.20" y="874.30" width="192.92" height="10.44" fill="#5b1e51"/>
<rect x="1290.51" y="874.30" width="8.39" height="10.44" fill="#0b0920"/>
<rect x="1089.20" y="884.44" width="192.92" height="10.44" fill="#581e4f"/>
<rect x="1290.51" y="884.44" width="8.39" height="10.44" fill="#0b0920"/>
<rect x="1089.20" y="894.58" width="192.92" height="10.44" fill="#561e4f"/>
<rect x="1290.51" y="894.58" width="8.39" height="10.44" fill="#0b0920"/>
<rect x="1089.20" y="904.72" width="192.92" height="10.44" fill="#461c48"/>
<rect x="1290.51" y="904.72" width="8.39" height="10.44" fill="#0b0920"/>
<rect x="1089.20" y="914.86" width="192.92" height="10.44" fill="#481c48"/>
<rect x="1290.51" y="914.86" width="8.39" height="10.44" fill="#0b0920"/>
<rect x="1089.20" y="925.00" width="192.92" height="10.44" fill="#461c48"/>
<rect x="1290.51" y="925.00" width="8.39" height="10.44" fill="#0b0920"/>
<rect x="1089.20" y="935.14" width="192.92" height="10.44" fill="#451c47"/>
<rect x="1290.51" y="935.14" width="8.39" height="10.44" fill="#0b0920"/>
<rect x="1089.20" y="945.28" width="192.92" height="10.44" fill="#461c48"/>
<rect x="1290.51" y="945.28" width="8.39" height="10.44" fill="#0b0920"/>
<rect x="1089.20" y="955.42" width="192.92" height="10.44" fill="#461c48"/>
<rect x="1290.51" y="955.42" width="8.39" height="10.44" fill="#0b0920"/>
<rect x="1298.60" y="316.60" width="8.69" height="648.96" fill="#03051a"/>
<rect x="1097.59" y="316.60" width="8.39" height="91.26" fill="#fff2e4" opacity="0.050"/>
<rect x="1105.98" y="316.60" width="8.39" height="91.26" fill="#ea4a22" opacity="0.022"/>
<rect x="1114.36" y="316.60" width="8.39" height="91.26" fill="#fff2e4" opacity="0.060"/>
<rect x="1131.14" y="316.60" width="8.39" height="91.26" fill="#ea4a22" opacity="0.036"/>
<rect x="1139.53" y="316.60" width="8.39" height="91.26" fill="#fff2e4" opacity="0.040"/>
<rect x="1156.30" y="316.60" width="8.39" height="91.26" fill="#fff2e4" opacity="0.060"/>
<rect x="1164.69" y="316.60" width="8.39" height="91.26" fill="#ea4a22" opacity="0.018"/>
<rect x="1173.08" y="316.60" width="8.39" height="91.26" fill="#fff2e4" opacity="0.050"/>
<rect x="1189.86" y="316.60" width="8.39" height="91.26" fill="#ea4a22" opacity="0.045"/>
<rect x="1198.24" y="316.60" width="8.39" height="91.26" fill="#fff2e4" opacity="0.030"/>
<rect x="1215.02" y="316.60" width="8.39" height="91.26" fill="#fff2e4" opacity="0.020"/>
<rect x="1223.41" y="316.60" width="8.39" height="91.26" fill="#ea4a22" opacity="0.054"/>
<rect x="1231.80" y="316.60" width="8.39" height="91.26" fill="#ea4a22" opacity="0.135"/>
<rect x="1240.18" y="316.60" width="8.39" height="91.26" fill="#fff2e4" opacity="0.040"/>
<rect x="1248.57" y="316.60" width="8.39" height="91.26" fill="#ea4a22" opacity="0.126"/>
<rect x="1265.35" y="316.60" width="8.39" height="91.26" fill="#fff2e4" opacity="0.050"/>
<rect x="1273.74" y="316.60" width="8.39" height="91.26" fill="#fff2e4" opacity="0.150"/>
<rect x="1097.59" y="407.86" width="8.39" height="172.38" fill="#c060a0" opacity="0.050"/>
<rect x="1105.98" y="407.86" width="8.39" height="172.38" fill="#0c0418" opacity="0.030"/>
<rect x="1114.36" y="407.86" width="8.39" height="172.38" fill="#c060a0" opacity="0.060"/>
<rect x="1131.14" y="407.86" width="8.39" height="172.38" fill="#0c0418" opacity="0.048"/>
<rect x="1139.53" y="407.86" width="8.39" height="172.38" fill="#c060a0" opacity="0.040"/>
<rect x="1156.30" y="407.86" width="8.39" height="172.38" fill="#c060a0" opacity="0.060"/>
<rect x="1164.69" y="407.86" width="8.39" height="172.38" fill="#0c0418" opacity="0.024"/>
<rect x="1173.08" y="407.86" width="8.39" height="172.38" fill="#c060a0" opacity="0.050"/>
<rect x="1189.86" y="407.86" width="8.39" height="172.38" fill="#0c0418" opacity="0.060"/>
<rect x="1198.24" y="407.86" width="8.39" height="172.38" fill="#c060a0" opacity="0.030"/>
<rect x="1215.02" y="407.86" width="8.39" height="172.38" fill="#c060a0" opacity="0.020"/>
<rect x="1223.41" y="407.86" width="8.39" height="172.38" fill="#0c0418" opacity="0.072"/>
<rect x="1231.80" y="407.86" width="8.39" height="172.38" fill="#0c0418" opacity="0.180"/>
<rect x="1240.18" y="407.86" width="8.39" height="172.38" fill="#c060a0" opacity="0.040"/>
<rect x="1248.57" y="407.86" width="8.39" height="172.38" fill="#0c0418" opacity="0.168"/>
<rect x="1265.35" y="407.86" width="8.39" height="172.38" fill="#c060a0" opacity="0.050"/>
<rect x="1273.74" y="407.86" width="8.39" height="172.38" fill="#c060a0" opacity="0.150"/>
<rect x="1097.59" y="580.24" width="8.39" height="121.68" fill="#fff2e4" opacity="0.050"/>
<rect x="1105.98" y="580.24" width="8.39" height="121.68" fill="#ea4a22" opacity="0.022"/>
<rect x="1114.36" y="580.24" width="8.39" height="121.68" fill="#fff2e4" opacity="0.060"/>
<rect x="1131.14" y="580.24" width="8.39" height="121.68" fill="#ea4a22" opacity="0.036"/>
<rect x="1139.53" y="580.24" width="8.39" height="121.68" fill="#fff2e4" opacity="0.040"/>
<rect x="1156.30" y="580.24" width="8.39" height="121.68" fill="#fff2e4" opacity="0.060"/>
<rect x="1164.69" y="580.24" width="8.39" height="121.68" fill="#ea4a22" opacity="0.018"/>
<rect x="1173.08" y="580.24" width="8.39" height="121.68" fill="#fff2e4" opacity="0.050"/>
<rect x="1189.86" y="580.24" width="8.39" height="121.68" fill="#ea4a22" opacity="0.045"/>
<rect x="1198.24" y="580.24" width="8.39" height="121.68" fill="#fff2e4" opacity="0.030"/>
<rect x="1215.02" y="580.24" width="8.39" height="121.68" fill="#fff2e4" opacity="0.020"/>
<rect x="1223.41" y="580.24" width="8.39" height="121.68" fill="#ea4a22" opacity="0.054"/>
<rect x="1231.80" y="580.24" width="8.39" height="121.68" fill="#ea4a22" opacity="0.135"/>
<rect x="1240.18" y="580.24" width="8.39" height="121.68" fill="#fff2e4" opacity="0.040"/>
<rect x="1248.57" y="580.24" width="8.39" height="121.68" fill="#ea4a22" opacity="0.126"/>
<rect x="1265.35" y="580.24" width="8.39" height="121.68" fill="#fff2e4" opacity="0.050"/>
<rect x="1273.74" y="580.24" width="8.39" height="121.68" fill="#fff2e4" opacity="0.150"/>
<rect x="1097.59" y="701.92" width="8.39" height="263.64" fill="#c060a0" opacity="0.050"/>
<rect x="1105.98" y="701.92" width="8.39" height="263.64" fill="#0c0418" opacity="0.030"/>
<rect x="1114.36" y="701.92" width="8.39" height="263.64" fill="#c060a0" opacity="0.060"/>
<rect x="1131.14" y="701.92" width="8.39" height="263.64" fill="#0c0418" opacity="0.048"/>
<rect x="1139.53" y="701.92" width="8.39" height="263.64" fill="#c060a0" opacity="0.040"/>
<rect x="1156.30" y="701.92" width="8.39" height="263.64" fill="#c060a0" opacity="0.060"/>
<rect x="1164.69" y="701.92" width="8.39" height="263.64" fill="#0c0418" opacity="0.024"/>
<rect x="1173.08" y="701.92" width="8.39" height="263.64" fill="#c060a0" opacity="0.050"/>
<rect x="1189.86" y="701.92" width="8.39" height="263.64" fill="#0c0418" opacity="0.060"/>
<rect x="1198.24" y="701.92" width="8.39" height="263.64" fill="#c060a0" opacity="0.030"/>
<rect x="1215.02" y="701.92" width="8.39" height="263.64" fill="#c060a0" opacity="0.020"/>
<rect x="1223.41" y="701.92" width="8.39" height="263.64" fill="#0c0418" opacity="0.072"/>
<rect x="1231.80" y="701.92" width="8.39" height="263.64" fill="#0c0418" opacity="0.180"/>
<rect x="1240.18" y="701.92" width="8.39" height="263.64" fill="#c060a0" opacity="0.040"/>
<rect x="1248.57" y="701.92" width="8.39" height="263.64" fill="#0c0418" opacity="0.168"/>
<rect x="1265.35" y="701.92" width="8.39" height="263.64" fill="#c060a0" opacity="0.050"/>
<rect x="1273.74" y="701.92" width="8.39" height="263.64" fill="#c060a0" opacity="0.150"/>
<rect x="1114.01" y="316.60" width="0.7" height="91.26" fill="#fff" opacity="0.07"/>
<rect x="1114.01" y="407.86" width="0.7" height="172.38" fill="#fff" opacity="0.17"/>
<rect x="1114.01" y="580.24" width="0.7" height="121.68" fill="#fff" opacity="0.07"/>
<rect x="1114.01" y="701.92" width="0.7" height="263.64" fill="#fff" opacity="0.17"/>
<rect x="1155.95" y="316.60" width="0.7" height="91.26" fill="#fff" opacity="0.07"/>
<rect x="1155.95" y="407.86" width="0.7" height="172.38" fill="#fff" opacity="0.17"/>
<rect x="1155.95" y="580.24" width="0.7" height="121.68" fill="#fff" opacity="0.07"/>
<rect x="1155.95" y="701.92" width="0.7" height="263.64" fill="#fff" opacity="0.17"/>
<rect x="1181.12" y="316.60" width="0.7" height="91.26" fill="#fff" opacity="0.07"/>
<rect x="1181.12" y="407.86" width="0.7" height="172.38" fill="#fff" opacity="0.17"/>
<rect x="1181.12" y="580.24" width="0.7" height="121.68" fill="#fff" opacity="0.07"/>
<rect x="1181.12" y="701.92" width="0.7" height="263.64" fill="#fff" opacity="0.17"/>
<rect x="1206.28" y="316.60" width="0.7" height="91.26" fill="#fff" opacity="0.07"/>
<rect x="1206.28" y="407.86" width="0.7" height="172.38" fill="#fff" opacity="0.17"/>
<rect x="1206.28" y="580.24" width="0.7" height="121.68" fill="#fff" opacity="0.07"/>
<rect x="1206.28" y="701.92" width="0.7" height="263.64" fill="#fff" opacity="0.17"/>
<rect x="1223.06" y="316.60" width="0.7" height="91.26" fill="#fff" opacity="0.07"/>
<rect x="1223.06" y="407.86" width="0.7" height="172.38" fill="#fff" opacity="0.17"/>
<rect x="1223.06" y="580.24" width="0.7" height="121.68" fill="#fff" opacity="0.07"/>
<rect x="1223.06" y="701.92" width="0.7" height="263.64" fill="#fff" opacity="0.17"/>
<rect x="1256.61" y="316.60" width="0.7" height="91.26" fill="#fff" opacity="0.07"/>
<rect x="1256.61" y="407.86" width="0.7" height="172.38" fill="#fff" opacity="0.17"/>
<rect x="1256.61" y="580.24" width="0.7" height="121.68" fill="#fff" opacity="0.07"/>
<rect x="1256.61" y="701.92" width="0.7" height="263.64" fill="#fff" opacity="0.17"/>
<rect x="1089.20" y="498.82" width="192.92" height="0.6" fill="#fff" opacity="0.10"/>
<rect x="1089.20" y="529.24" width="192.92" height="0.6" fill="#fff" opacity="0.10"/>
<rect x="1089.20" y="549.52" width="192.92" height="0.6" fill="#fff" opacity="0.10"/>
<rect x="1089.20" y="569.80" width="192.92" height="0.6" fill="#fff" opacity="0.10"/>
<rect x="1089.20" y="600.22" width="192.92" height="0.6" fill="#fff" opacity="0.10"/>
<rect x="1089.20" y="721.90" width="192.92" height="0.6" fill="#fff" opacity="0.10"/>
<rect x="1089.20" y="792.88" width="192.92" height="0.6" fill="#fff" opacity="0.10"/>
<rect x="1089.20" y="823.30" width="192.92" height="0.6" fill="#fff" opacity="0.10"/>
<rect x="1089.20" y="843.58" width="192.92" height="0.6" fill="#fff" opacity="0.10"/>
<rect x="1089.20" y="874.00" width="192.92" height="0.6" fill="#fff" opacity="0.10"/>
</g>
<rect x="1321.4" y="316.3" width="18.8" height="648.70" fill="url(#cbg)" filter="url(#hb)"/>
<g font-family="DejaVu Sans, sans-serif" fill="#1c1c1c" stroke="#1c1c1c" stroke-width="0.26" filter="url(#tb)">
<text x="1198.8" y="311.7" font-size="15.1" text-anchor="middle">Average CpG % methylation by sample</text>
<g font-size="11.1" text-anchor="end">
<text transform="translate(1070.3,330.04) scale(1.068,1)">hiPSC primed</text>
<text transform="translate(1070.3,355.39) scale(1.068,1)">hiPSC reset</text>
<text transform="translate(1070.3,380.74) scale(1.068,1)">hPGCLC</text>
<text transform="translate(1070.3,401.02) scale(1.068,1)">iOLC D3 -DNMTi</text>
<text transform="translate(1070.3,426.37) scale(1.068,1)">iOLC D3</text>
<text transform="translate(1070.3,456.79) scale(1.068,1)">iOLC D5</text>
<text transform="translate(1070.3,487.21) scale(1.068,1)">iOLC reset D5</text>
<text transform="translate(1070.3,512.56) scale(1.068,1)">hPGC wk5.5 F</text>
<text transform="translate(1070.3,532.84) scale(1.068,1)">hPGC wk7 F</text>
<text transform="translate(1070.3,553.12) scale(1.068,1)">hPGC wk9 F</text>
<text transform="translate(1070.3,573.40) scale(1.068,1)">hPGC wk9 M</text>
<text transform="translate(1070.3,624.10) scale(1.068,1)">hiPSC Yamashiro</text>
<text transform="translate(1070.3,674.80) scale(1.068,1)">hPGCLC Yamashiro</text>
<text transform="translate(1070.3,695.08) scale(1.068,1)">iMeLC Yamashiro</text>
<text transform="translate(1070.3,715.36) scale(1.068,1)">xrOvary day 35</text>
<text transform="translate(1070.3,735.64) scale(1.068,1)">xrOvary day 77</text>
<text transform="translate(1070.3,779.34) scale(1.068,1)">xrOvary day 120</text>
<text transform="translate(1020.8,793.94) scale(1.068,1)" text-anchor="middle">DDX4+</text>
<text transform="translate(1070.3,860.46) scale(1.068,1)">xrOvary day 120</text>
<text transform="translate(1020.8,875.06) scale(1.068,1)" text-anchor="middle">TFAP2C+</text>
<text transform="translate(1070.3,931.44) scale(1.068,1)">xrOvary day 120</text>
<text transform="translate(1020.8,946.04) scale(1.068,1)" text-anchor="middle">DDX4+ TFAP2C+</text>
</g>
<g font-size="9.5" text-anchor="middle" fill="#3a3a3a" stroke="none"><text transform="translate(1078.8,325.17) scale(1.08,1)">1</text><text transform="translate(1078.8,335.31) scale(1.08,1)">2</text><text transform="translate(1078.8,345.45) scale(1.08,1)">1</text><text transform="translate(1078.8,355.59) scale(1.08,1)">2</text><text transform="translate(1078.8,365.73) scale(1.08,1)">3</text><text transform="translate(1078.8,375.87) scale(1.08,1)">1</text><text transform="translate(1078.8,386.01) scale(1.08,1)">2</text><text transform="translate(1078.8,396.15) scale(1.08,1)">1</text><text transform="translate(1078.8,406.29) scale(1.08,1)">2</text><text transform="translate(1078.8,416.43) scale(1.08,1)">1</text><text transform="translate(1078.8,426.57) scale(1.08,1)">2</text><text transform="translate(1078.8,436.71) scale(1.08,1)">3</text><text transform="translate(1078.8,446.85) scale(1.08,1)">1</text><text transform="translate(1078.8,456.99) scale(1.08,1)">2</text><text transform="translate(1078.8,467.13) scale(1.08,1)">3</text><text transform="translate(1078.8,477.27) scale(1.08,1)">1</text><text transform="translate(1078.8,487.41) scale(1.08,1)">2</text><text transform="translate(1078.8,497.55) scale(1.08,1)">3</text><text transform="translate(1078.8,507.69) scale(1.08,1)">1</text><text transform="translate(1078.8,517.83) scale(1.08,1)">2</text><text transform="translate(1078.8,527.97) scale(1.08,1)">1</text><text transform="translate(1078.8,538.11) scale(1.08,1)">2</text><text transform="translate(1078.8,548.25) scale(1.08,1)">1</text><text transform="translate(1078.8,558.39) scale(1.08,1)">2</text><text transform="translate(1078.8,568.53) scale(1.08,1)">1</text><text transform="translate(1078.8,578.67) scale(1.08,1)">2</text><text transform="translate(1078.8,588.81) scale(1.08,1)">1</text><text transform="translate(1078.8,598.95) scale(1.08,1)">2</text><text transform="translate(1078.8,609.09) scale(1.08,1)">3</text><text transform="translate(1078.8,619.23) scale(1.08,1)">4</text><text transform="translate(1078.8,629.37) scale(1.08,1)">5</text><text transform="translate(1078.8,639.51) scale(1.08,1)">6</text><text transform="translate(1078.8,649.65) scale(1.08,1)">7</text><text transform="translate(1078.8,659.79) scale(1.08,1)">8</text><text transform="translate(1078.8,669.93) scale(1.08,1)">1</text><text transform="translate(1078.8,680.07) scale(1.08,1)">2</text><text transform="translate(1078.8,690.21) scale(1.08,1)">1</text><text transform="translate(1078.8,700.35) scale(1.08,1)">2</text><text transform="translate(1078.8,710.49) scale(1.08,1)">1</text><text transform="translate(1078.8,720.63) scale(1.08,1)">2</text><text transform="translate(1078.8,730.77) scale(1.08,1)">1</text><text transform="translate(1078.8,740.91) scale(1.08,1)">2</text><text transform="translate(1078.8,751.05) scale(1.08,1)">1</text><text transform="translate(1078.8,761.19) scale(1.08,1)">2</text><text transform="translate(1078.8,771.33) scale(1.08,1)">3</text><text transform="translate(1078.8,781.47) scale(1.08,1)">4</text><text transform="translate(1078.8,791.61) scale(1.08,1)">5</text><text transform="translate(1078.8,801.75) scale(1.08,1)">6</text><text transform="translate(1078.8,811.89) scale(1.08,1)">7</text><text transform="translate(1078.8,822.03) scale(1.08,1)">8</text><text transform="translate(1078.8,832.17) scale(1.08,1)">1</text><text transform="translate(1078.8,842.31) scale(1.08,1)">2</text><text transform="translate(1078.8,852.45) scale(1.08,1)">3</text><text transform="translate(1078.8,862.59) scale(1.08,1)">4</text><text transform="translate(1078.8,872.73) scale(1.08,1)">5</text><text transform="translate(1078.8,882.87) scale(1.08,1)">6</text><text transform="translate(1078.8,893.01) scale(1.08,1)">7</text><text transform="translate(1078.8,903.15) scale(1.08,1)">8</text><text transform="translate(1078.8,913.29) scale(1.08,1)">1</text><text transform="translate(1078.8,923.43) scale(1.08,1)">2</text><text transform="translate(1078.8,933.57) scale(1.08,1)">3</text><text transform="translate(1078.8,943.71) scale(1.08,1)">4</text><text transform="translate(1078.8,953.85) scale(1.08,1)">5</text><text transform="translate(1078.8,963.99) scale(1.08,1)">6</text></g>
<g stroke="#1c1c1c" stroke-width="1.2"><line x1="1072.2" y1="317.60" x2="1072.2" y2="335.88"/><line x1="1072.2" y1="337.88" x2="1072.2" y2="366.30"/><line x1="1072.2" y1="368.30" x2="1072.2" y2="386.58"/><line x1="1072.2" y1="388.58" x2="1072.2" y2="406.86"/><line x1="1072.2" y1="408.86" x2="1072.2" y2="437.28"/><line x1="1072.2" y1="439.28" x2="1072.2" y2="467.70"/><line x1="1072.2" y1="469.70" x2="1072.2" y2="498.12"/><line x1="1072.2" y1="500.12" x2="1072.2" y2="518.40"/><line x1="1072.2" y1="520.40" x2="1072.2" y2="538.68"/><line x1="1072.2" y1="540.68" x2="1072.2" y2="558.96"/><line x1="1072.2" y1="560.96" x2="1072.2" y2="579.24"/><line x1="1072.2" y1="581.24" x2="1072.2" y2="660.36"/><line x1="1072.2" y1="662.36" x2="1072.2" y2="680.64"/><line x1="1072.2" y1="682.64" x2="1072.2" y2="700.92"/><line x1="1072.2" y1="702.92" x2="1072.2" y2="721.20"/><line x1="1072.2" y1="723.20" x2="1072.2" y2="741.48"/><line x1="1072.2" y1="743.48" x2="1072.2" y2="822.60"/><line x1="1072.2" y1="824.60" x2="1072.2" y2="903.72"/><line x1="1072.2" y1="905.72" x2="1072.2" y2="964.56"/></g>
<g stroke="#1c1c1c" stroke-width="1.3"><line x1="1085.8" y1="321.67" x2="1089.2" y2="321.67"/><line x1="1085.8" y1="331.81" x2="1089.2" y2="331.81"/><line x1="1085.8" y1="341.95" x2="1089.2" y2="341.95"/><line x1="1085.8" y1="352.09" x2="1089.2" y2="352.09"/><line x1="1085.8" y1="362.23" x2="1089.2" y2="362.23"/><line x1="1085.8" y1="372.37" x2="1089.2" y2="372.37"/><line x1="1085.8" y1="382.51" x2="1089.2" y2="382.51"/><line x1="1085.8" y1="392.65" x2="1089.2" y2="392.65"/><line x1="1085.8" y1="402.79" x2="1089.2" y2="402.79"/><line x1="1085.8" y1="412.93" x2="1089.2" y2="412.93"/><line x1="1085.8" y1="423.07" x2="1089.2" y2="423.07"/><line x1="1085.8" y1="433.21" x2="1089.2" y2="433.21"/><line x1="1085.8" y1="443.35" x2="1089.2" y2="443.35"/><line x1="1085.8" y1="453.49" x2="1089.2" y2="453.49"/><line x1="1085.8" y1="463.63" x2="1089.2" y2="463.63"/><line x1="1085.8" y1="473.77" x2="1089.2" y2="473.77"/><line x1="1085.8" y1="483.91" x2="1089.2" y2="483.91"/><line x1="1085.8" y1="494.05" x2="1089.2" y2="494.05"/><line x1="1085.8" y1="504.19" x2="1089.2" y2="504.19"/><line x1="1085.8" y1="514.33" x2="1089.2" y2="514.33"/><line x1="1085.8" y1="524.47" x2="1089.2" y2="524.47"/><line x1="1085.8" y1="534.61" x2="1089.2" y2="534.61"/><line x1="1085.8" y1="544.75" x2="1089.2" y2="544.75"/><line x1="1085.8" y1="554.89" x2="1089.2" y2="554.89"/><line x1="1085.8" y1="565.03" x2="1089.2" y2="565.03"/><line x1="1085.8" y1="575.17" x2="1089.2" y2="575.17"/><line x1="1085.8" y1="585.31" x2="1089.2" y2="585.31"/><line x1="1085.8" y1="595.45" x2="1089.2" y2="595.45"/><line x1="1085.8" y1="605.59" x2="1089.2" y2="605.59"/><line x1="1085.8" y1="615.73" x2="1089.2" y2="615.73"/><line x1="1085.8" y1="625.87" x2="1089.2" y2="625.87"/><line x1="1085.8" y1="636.01" x2="1089.2" y2="636.01"/><line x1="1085.8" y1="646.15" x2="1089.2" y2="646.15"/><line x1="1085.8" y1="656.29" x2="1089.2" y2="656.29"/><line x1="1085.8" y1="666.43" x2="1089.2" y2="666.43"/><line x1="1085.8" y1="676.57" x2="1089.2" y2="676.57"/><line x1="1085.8" y1="686.71" x2="1089.2" y2="686.71"/><line x1="1085.8" y1="696.85" x2="1089.2" y2="696.85"/><line x1="1085.8" y1="706.99" x2="1089.2" y2="706.99"/><line x1="1085.8" y1="717.13" x2="1089.2" y2="717.13"/><line x1="1085.8" y1="727.27" x2="1089.2" y2="727.27"/><line x1="1085.8" y1="737.41" x2="1089.2" y2="737.41"/><line x1="1085.8" y1="747.55" x2="1089.2" y2="747.55"/><line x1="1085.8" y1="757.69" x2="1089.2" y2="757.69"/><line x1="1085.8" y1="767.83" x2="1089.2" y2="767.83"/><line x1="1085.8" y1="777.97" x2="1089.2" y2="777.97"/><line x1="1085.8" y1="788.11" x2="1089.2" y2="788.11"/><line x1="1085.8" y1="798.25" x2="1089.2" y2="798.25"/><line x1="1085.8" y1="808.39" x2="1089.2" y2="808.39"/><line x1="1085.8" y1="818.53" x2="1089.2" y2="818.53"/><line x1="1085.8" y1="828.67" x2="1089.2" y2="828.67"/><line x1="1085.8" y1="838.81" x2="1089.2" y2="838.81"/><line x1="1085.8" y1="848.95" x2="1089.2" y2="848.95"/><line x1="1085.8" y1="859.09" x2="1089.2" y2="859.09"/><line x1="1085.8" y1="869.23" x2="1089.2" y2="869.23"/><line x1="1085.8" y1="879.37" x2="1089.2" y2="879.37"/><line x1="1085.8" y1="889.51" x2="1089.2" y2="889.51"/><line x1="1085.8" y1="899.65" x2="1089.2" y2="899.65"/><line x1="1085.8" y1="909.79" x2="1089.2" y2="909.79"/><line x1="1085.8" y1="919.93" x2="1089.2" y2="919.93"/><line x1="1085.8" y1="930.07" x2="1089.2" y2="930.07"/><line x1="1085.8" y1="940.21" x2="1089.2" y2="940.21"/><line x1="1085.8" y1="950.35" x2="1089.2" y2="950.35"/><line x1="1085.8" y1="960.49" x2="1089.2" y2="960.49"/>
<line x1="1093.39" y1="965.6" x2="1093.39" y2="968.8"/>
<line x1="1101.78" y1="965.6" x2="1101.78" y2="968.8"/>
<line x1="1110.17" y1="965.6" x2="1110.17" y2="968.8"/>
<line x1="1118.56" y1="965.6" x2="1118.56" y2="968.8"/>
<line x1="1126.95" y1="965.6" x2="1126.95" y2="968.8"/>
<line x1="1135.33" y1="965.6" x2="1135.33" y2="968.8"/>
<line x1="1143.72" y1="965.6" x2="1143.72" y2="968.8"/>
<line x1="1152.11" y1="965.6" x2="1152.11" y2="968.8"/>
<line x1="1160.50" y1="965.6" x2="1160.50" y2="968.8"/>
<line x1="1168.89" y1="965.6" x2="1168.89" y2="968.8"/>
<line x1="1177.27" y1="965.6" x2="1177.27" y2="968.8"/>
<line x1="1185.66" y1="965.6" x2="1185.66" y2="968.8"/>
<line x1="1194.05" y1="965.6" x2="1194.05" y2="968.8"/>
<line x1="1202.44" y1="965.6" x2="1202.44" y2="968.8"/>
<line x1="1210.83" y1="965.6" x2="1210.83" y2="968.8"/>
<line x1="1219.21" y1="965.6" x2="1219.21" y2="968.8"/>
<line x1="1227.60" y1="965.6" x2="1227.60" y2="968.8"/>
<line x1="1235.99" y1="965.6" x2="1235.99" y2="968.8"/>
<line x1="1244.38" y1="965.6" x2="1244.38" y2="968.8"/>
<line x1="1252.77" y1="965.6" x2="1252.77" y2="968.8"/>
<line x1="1261.15" y1="965.6" x2="1261.15" y2="968.8"/>
<line x1="1269.54" y1="965.6" x2="1269.54" y2="968.8"/>
<line x1="1277.93" y1="965.6" x2="1277.93" y2="968.8"/>
<line x1="1286.32" y1="965.6" x2="1286.32" y2="968.8"/>
<line x1="1294.71" y1="965.6" x2="1294.71" y2="968.8"/>
<line x1="1303.09" y1="965.6" x2="1303.09" y2="968.8"/>
<line x1="1340.6" y1="965.00" x2="1343.6" y2="965.00"/>
<line x1="1340.6" y1="835.26" x2="1343.6" y2="835.26"/>
<line x1="1340.6" y1="705.52" x2="1343.6" y2="705.52"/>
<line x1="1340.6" y1="575.78" x2="1343.6" y2="575.78"/>
<line x1="1340.6" y1="446.04" x2="1343.6" y2="446.04"/>
<line x1="1340.6" y1="316.30" x2="1343.6" y2="316.30"/>
</g>
<g font-size="8.6" text-anchor="end" fill="#333" stroke="none">
<text transform="translate(1096.49,973.6) rotate(-90)">1</text>
<text transform="translate(1104.88,973.6) rotate(-90)">2</text>
<text transform="translate(1113.27,973.6) rotate(-90)">3</text>
<text transform="translate(1121.66,973.6) rotate(-90)">4</text>
<text transform="translate(1130.05,973.6) rotate(-90)">5</text>
<text transform="translate(1138.43,973.6) rotate(-90)">6</text>
<text transform="translate(1146.82,973.6) rotate(-90)">7</text>
<text transform="translate(1155.21,973.6) rotate(-90)">8</text>
<text transform="translate(1163.60,973.6) rotate(-90)">9</text>
<text transform="translate(1171.99,973.6) rotate(-90)">10</text>
<text transform="translate(1180.37,973.6) rotate(-90)">11</text>
<text transform="translate(1188.76,973.6) rotate(-90)">12</text>
<text transform="translate(1197.15,973.6) rotate(-90)">13</text>
<text transform="translate(1205.54,973.6) rotate(-90)">14</text>
<text transform="translate(1213.93,973.6) rotate(-90)">15</text>
<text transform="translate(1222.31,973.6) rotate(-90)">16</text>
<text transform="translate(1230.70,973.6) rotate(-90)">17</text>
<text transform="translate(1239.09,973.6) rotate(-90)">18</text>
<text transform="translate(1247.48,973.6) rotate(-90)">19</text>
<text transform="translate(1255.87,973.6) rotate(-90)">20</text>
<text transform="translate(1264.25,973.6) rotate(-90)">21</text>
<text transform="translate(1272.64,973.6) rotate(-90)">22</text>
<text transform="translate(1281.03,973.6) rotate(-90)">X</text>
<text transform="translate(1289.42,973.6) rotate(-90)">Y</text>
<text transform="translate(1297.81,973.6) rotate(-90)">M</text>
</g>
<text transform="translate(1307.69,973.6) rotate(-90)" font-size="9.8" text-anchor="end">λ phage</text>
<text x="1198.2" y="995.8" font-size="11.6" text-anchor="middle">Chromosome</text>
<g font-size="9.8" fill="#383838" stroke="none">
<text x="1347.2" y="969.30">0</text>
<text x="1347.2" y="839.56">20</text>
<text x="1347.2" y="709.82">40</text>
<text x="1347.2" y="580.08">60</text>
<text x="1347.2" y="450.34">80</text>
<text x="1347.2" y="320.60">100</text>
</g>
<text transform="translate(1356.4,640.4) rotate(-90)" font-size="12.1" text-anchor="middle">% methylated</text>
</g>
<path d="M948 475 H965 V467 L981.2 482.8 L965 498.6 V490.6 H948 Z" fill="#159a49"/>
</svg>
</body></html>
